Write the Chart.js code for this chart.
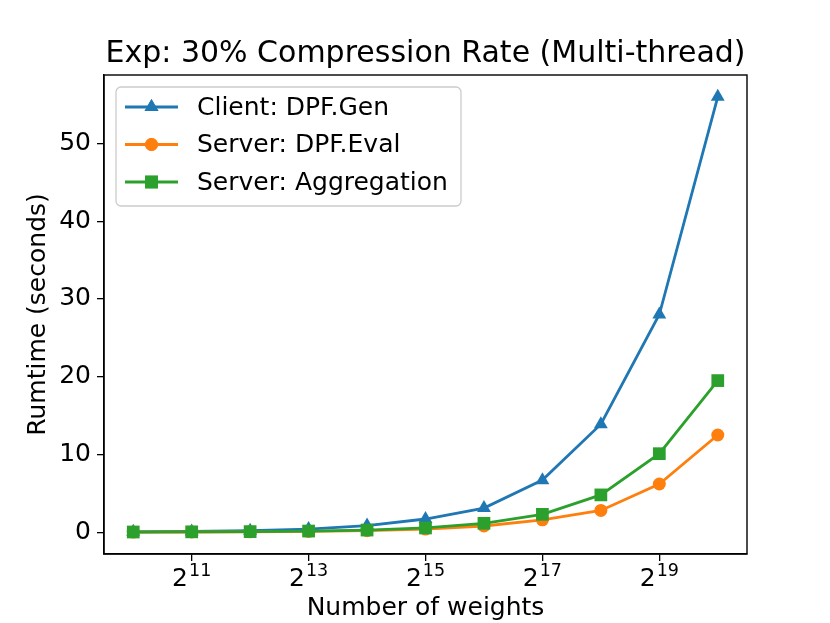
<!DOCTYPE html>
<html>
<head>
<meta charset="utf-8">
<script src="https://cdn.jsdelivr.net/npm/chart.js@4.4.1/dist/chart.umd.min.js"></script>
<style>
  html, body { margin: 0; padding: 0; background: #fff; }
  #wrap { width: 830px; height: 623px; }
</style>
</head>
<body>
<div id="wrap"><canvas id="c" width="830" height="623"></canvas></div>
<script>
// ---- data (x = exponent of 2) ----
const exponents = [10, 11, 12, 13, 14, 15, 16, 17, 18, 19, 20];
const clientGen = [0.05, 0.1, 0.2, 0.4, 0.85, 1.7, 3.1, 6.7, 13.9, 28.0, 56.0];
const serverEval = [0.02, 0.03, 0.05, 0.1, 0.2, 0.4, 0.8, 1.6, 2.8, 6.2, 12.5];
const serverAgg = [0.03, 0.05, 0.08, 0.15, 0.28, 0.55, 1.15, 2.3, 4.8, 10.1, 19.5];
const seriesNames = ['Client: DPF.Gen', 'Server: DPF.Eval', 'Server: Aggregation'];
const xTickExponents = [11, 13, 15, 17, 19];
const yTickValues = [0, 10, 20, 30, 40, 50];
const titleText = 'Exp: 30% Compression Rate (Multi-thread)';
const xAxisLabel = 'Number of weights';
const yAxisLabel = 'Rumtime (seconds)';

function pts(ys) { return exponents.map((e, i) => ({x: e, y: ys[i]})); }

const FONT = 'DejaVu Sans';
const colors = ['#1f77b4', '#ff7f0e', '#2ca02c'];
const styles = ['triangle', 'circle', 'rect'];
const radii = [8, 6.5, 9];

const frame = {
  id: 'frame',
  afterDatasetsDraw(chart) {
    const {ctx, chartArea: a} = chart;
    ctx.save();
    ctx.strokeStyle = '#000';
    ctx.lineWidth = 1.4;
    ctx.strokeRect(a.left, a.top, a.right - a.left, a.bottom - a.top);
    ctx.restore();
  }
};

// draws x tick labels as "2" with a raised exponent, at the x scale's tick positions
const powerTicks = {
  id: 'powerTicks',
  afterDraw(chart) {
    const {ctx} = chart;
    const xs = chart.scales.x;
    ctx.save();
    ctx.fillStyle = '#000';
    ctx.textBaseline = 'alphabetic';
    ctx.textAlign = 'left';
    xs.ticks.forEach(t => {
      const px = xs.getPixelForValue(t.value);
      const base = '2', exp = String(t.value);
      ctx.font = '25px "' + FONT + '"';
      const wb = ctx.measureText(base).width;
      ctx.font = '17.5px "' + FONT + '"';
      const we = ctx.measureText(exp).width;
      const x0 = px - (wb + 1 + we) / 2;
      const baseY = xs.top + 32;
      ctx.font = '25px "' + FONT + '"';
      ctx.fillText(base, x0, baseY);
      ctx.font = '17.5px "' + FONT + '"';
      ctx.fillText(exp, x0 + wb + 1, baseY - 10.5);
    });
    ctx.restore();
  }
};

const boxLegend = {
  id: 'boxLegend',
  afterDraw(chart) {
    const {ctx, chartArea: a} = chart;
    const x0 = a.left + 12, y0 = a.top + 12, w = 345, h = 119, r = 5;
    ctx.save();
    ctx.beginPath();
    ctx.moveTo(x0 + r, y0);
    ctx.arcTo(x0 + w, y0, x0 + w, y0 + h, r);
    ctx.arcTo(x0 + w, y0 + h, x0, y0 + h, r);
    ctx.arcTo(x0, y0 + h, x0, y0, r);
    ctx.arcTo(x0, y0, x0 + w, y0, r);
    ctx.closePath();
    ctx.fillStyle = 'rgba(255,255,255,0.8)';
    ctx.fill();
    ctx.strokeStyle = '#cccccc';
    ctx.lineWidth = 1.3;
    ctx.stroke();
    chart.data.datasets.forEach((ds, i) => {
      const cy = y0 + 20 + i * 37.5;
      ctx.strokeStyle = ds.borderColor;
      ctx.lineWidth = 2.8;
      ctx.beginPath();
      ctx.moveTo(x0 + 9, cy);
      ctx.lineTo(x0 + 62, cy);
      ctx.stroke();
      ctx.fillStyle = ds.borderColor;
      Chart.helpers.drawPoint(ctx, {pointStyle: ds.pointStyle, radius: ds.pointRadius, borderWidth: 0}, x0 + 35.5, cy);
      ctx.fill();
      ctx.fillStyle = '#000';
      ctx.font = '25px "' + FONT + '"';
      ctx.textBaseline = 'middle';
      ctx.textAlign = 'left';
      ctx.fillText(ds.label, x0 + 81, cy + 1);
    });
    ctx.restore();
  }
};

const datasets = [clientGen, serverEval, serverAgg].map((ys, i) => ({
  label: seriesNames[i],
  data: pts(ys),
  borderColor: colors[i],
  backgroundColor: colors[i],
  pointBackgroundColor: colors[i],
  pointBorderColor: colors[i],
  pointBorderWidth: 0,
  pointStyle: styles[i],
  pointRadius: radii[i],
  pointHoverRadius: radii[i],
  borderWidth: 2.8,
  tension: 0,
  fill: false,
  order: 3 - i
}));

new Chart(document.getElementById('c'), {
  type: 'line',
  data: { datasets },
  options: {
    responsive: false,
    animation: false,
    devicePixelRatio: 1,
    layout: { padding: { left: 0, right: 83, top: 0, bottom: 0 } },
    plugins: {
      legend: { display: false },
      tooltip: { enabled: false },
      title: {
        display: true,
        fullSize: false,
        text: titleText,
        color: '#000',
        font: { family: FONT, size: 30, weight: 'normal', lineHeight: 1.2 },
        padding: { top: 36, bottom: 3 }
      }
    },
    scales: {
      x: {
        type: 'linear',
        min: 9.5,
        max: 20.5,
        afterBuildTicks(scale) { scale.ticks = xTickExponents.map(v => ({value: v})); },
        afterFit(scale) { scale.height = 69; },
        ticks: {
          display: false,
          autoSkip: false
        },
        grid: { drawOnChartArea: false, drawTicks: true, tickLength: 7, color: '#000', lineWidth: 1.3 },
        border: { display: true, color: '#000', width: 1.4 },
        title: {
          display: true,
          text: xAxisLabel,
          color: '#000',
          font: { family: FONT, size: 25, lineHeight: 1.2 },
          padding: { top: 2, bottom: 0 }
        }
      },
      y: {
        type: 'linear',
        min: -2.8,
        max: 58.8,
        afterBuildTicks(scale) { scale.ticks = yTickValues.map(v => ({value: v})); },
        afterFit(scale) { scale.width = 104; },
        ticks: {
          color: '#000',
          font: { family: FONT, size: 25 },
          padding: 6,
          autoSkip: false
        },
        grid: { drawOnChartArea: false, drawTicks: true, tickLength: 7, color: '#000', lineWidth: 1.3 },
        border: { display: true, color: '#000', width: 1.4 },
        title: {
          display: true,
          text: yAxisLabel,
          color: '#000',
          font: { family: FONT, size: 25, lineHeight: 1.2 },
          padding: { top: 23, bottom: 0 }
        }
      }
    }
  },
  plugins: [frame, powerTicks, boxLegend]
});
</script>
</body>
</html>
